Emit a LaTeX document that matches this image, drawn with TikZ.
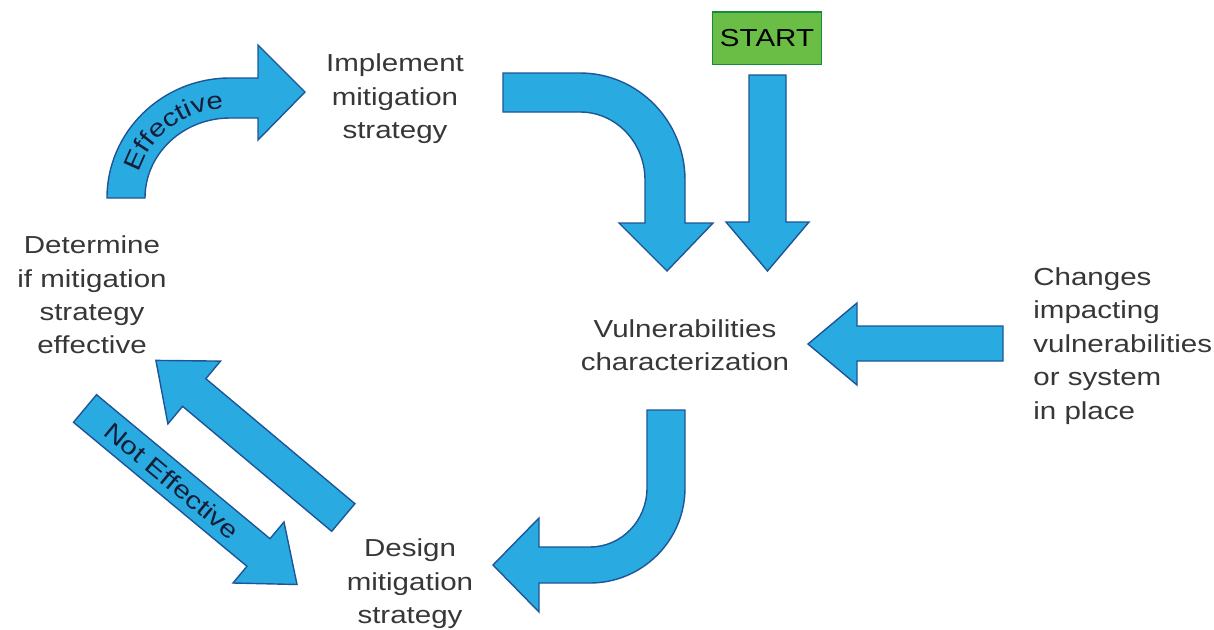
\documentclass[tikz,border=0pt]{standalone}
\usepackage{fontspec}
\setmainfont{Liberation Sans}[FakeStretch=1.2]
\usetikzlibrary{decorations.text}
\definecolor{arrowblue}{RGB}{41,171,226}
\definecolor{arrowedge}{RGB}{30,85,150}
\definecolor{startgreen}{RGB}{106,190,69}
\definecolor{startedge}{RGB}{20,140,60}
\definecolor{labelgray}{RGB}{55,55,55}
\definecolor{arrowtext}{RGB}{20,30,55}

\begin{document}
\begin{tikzpicture}[x=0.02cm, y=-0.02cm,
  blockarrow/.style={fill=arrowblue, draw=arrowedge, line width=0.8pt},
  steplabel/.style={font=\fontsize{14}{19}\selectfont, text=labelgray, align=center, inner sep=0pt}]
\useasboundingbox (0,0) rectangle (1214,629);

% Steps of the cycle
\node[steplabel] (impl) at (395,99) {Implement\\mitigation\\strategy};
\node[steplabel] (determine) at (92,295) {Determine\\if mitigation\\strategy\\effective};
\node[steplabel] (vuln) at (685,345) {Vulnerabilities\\characterization};
\node[steplabel, align=left, anchor=west] (changes) at (1033,346) {Changes\\impacting\\vulnerabilities\\or system\\in place};
\node[steplabel] (design) at (410,584) {Design\\mitigation\\strategy};

% Start box
\node[draw=startedge, fill=startgreen, line width=0.8pt, minimum width=2.18cm, minimum height=1.06cm,
  font=\fontsize{14}{19}\selectfont] (start) at (767,38.3) {START};

% Effective - curved arrow up to implement
\draw[blockarrow] (107,198) .. controls (107,131.8) and (162.1,78) .. (230,78) -- (258,78) -- (258,45) -- (305,92)
  -- (258,140) -- (258,118) -- (230,118) .. controls (183.1,118) and (145,153.8) .. (145,198) -- cycle;
\path[decorate, decoration={text along path, text align=center,
  text={|\fontsize{14}{19}\selectfont\color{arrowtext}|Effective}}]
  (135,198) .. controls (135,148.3) and (177.6,108) .. (230,108) -- (250,108);

% Implement -> vulnerabilities
\draw[blockarrow] (503,73) -- (580,73) .. controls (638,73) and (685,121) .. (685,180) -- (685,223) -- (713,223)
  -- (667,271) -- (619,223) -- (645,223) -- (645,180) .. controls (645,142.5) and (616,112) .. (580,112) -- (503,112) -- cycle;

% Start -> vulnerabilities
\draw[blockarrow] (749,75) -- (786,75) -- (786,222) -- (809,222) -- (767.5,271) -- (726,222) -- (749,222) -- cycle;

% Changes -> vulnerabilities
\draw[blockarrow] (1003,326) -- (857,326) -- (857,303) -- (808,344) -- (857,385) -- (857,361) -- (1003,361) -- cycle;

% Vulnerabilities -> design
\draw[blockarrow] (647,410) -- (685,410) -- (685,488) .. controls (685,540.4) and (642.4,583) .. (590,583) -- (539,583)
  -- (539,612) -- (493,565) -- (539,518) -- (539,547) -- (590,547) .. controls (621.5,547) and (647,520.6) .. (647,488) -- cycle;

% Design -> determine
\draw[blockarrow] (354.9,503.7) -- (205.8,378.7) -- (220.5,361.1) -- (155.9,360.4) -- (167.9,423.9) -- (182.6,406.3)
  -- (331.7,531.3) -- cycle;

% Not effective - back to design
\draw[blockarrow] (96.5,394.7) -- (270,538.7) -- (284,522) -- (297,584.5) -- (233,583) -- (247,566.3) -- (73.5,422.3) -- cycle;
\node[font=\fontsize{14}{19}\selectfont, text=arrowtext, rotate=-39.8, inner sep=0pt] (noteff) at (171.9,480.8) {Not Effective};
\end{tikzpicture}
\end{document}
